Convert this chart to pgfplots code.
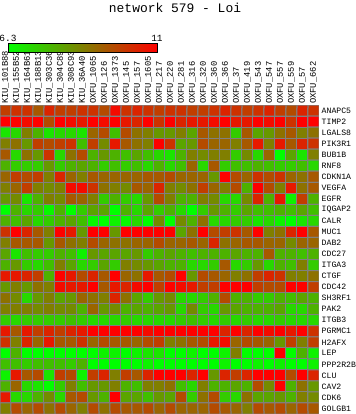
\documentclass[border=0pt]{standalone}
\usepackage{pgfplots}
\pgfplotsset{compat=1.18}
\usepackage{fontspec}
\setmonofont{Liberation Mono}
\begin{document}
\begin{tikzpicture}
\useasboundingbox (0bp,0bp) rectangle (356bp,414bp);
\begin{axis}[
  at={(0bp,0bp)}, anchor=south west,
  scale only axis, width=319bp, height=309bp,
  xmin=-0.5, xmax=28.5, ymin=-0.5, ymax=27.5,
  y dir=reverse,
  enlargelimits=false,
  axis line style={draw=none},
  major tick length=0pt,
  xtick={0,...,28}, ytick={0,...,27},
  xticklabel pos=upper, yticklabel pos=right,
  xticklabels={KIU\_101B88,KIU\_155B52,KIU\_164B61,KIU\_188B13,KIU\_303C36,KIU\_304C89,KIU\_308C93,KIU\_36A40,OXFU\_1065,OXFU\_126,OXFU\_1373,OXFU\_145,OXFU\_157,OXFU\_1605,OXFU\_217,OXFU\_220,OXFU\_281,OXFU\_316,OXFU\_320,OXFU\_360,OXFU\_366,OXFU\_37,OXFU\_419,OXFU\_543,OXFU\_547,OXFU\_557,OXFU\_559,OXFU\_57,OXFU\_662},
  yticklabels={ANAPC5,TIMP2,LGALS8,PIK3R1,BUB1B,RNF8,CDKN1A,VEGFA,EGFR,IQGAP2,CALR,MUC1,DAB2,CDC27,ITGA3,CTGF,CDC42,SH3RF1,PAK2,ITGB3,PGRMC1,H2AFX,LEP,PPP2R2B,CLU,CAV2,CDK6,GOLGB1},
  xticklabel style={rotate=90, anchor=west, font=\ttfamily\fontsize{8.8}{10}\selectfont, inner sep=1bp},
  yticklabel style={anchor=west, font=\ttfamily\fontsize{8.2}{10}\selectfont, inner sep=0pt, xshift=2.5bp},
  colormap={rg}{rgb255=(0,255,0) rgb255=(255,0,0)},
  point meta min=6.3, point meta max=11,
  colorbar horizontal,
  colorbar style={
    at={(parent axis.north west)}, anchor=south west,
    xshift=8bp, yshift=60.7bp,
    scale only axis, width=149bp, height=9bp,
    xtick={6.3,11}, xticklabels={6.3,11},
    xticklabel pos=upper,
    major tick length=0pt,
    xticklabel style={font=\ttfamily\fontsize{9.5}{10}\selectfont, inner sep=2bp, rotate=0},
    axis line style={line width=0.8bp, draw=black},
  },
]
\addplot[matrix plot*, mesh/cols=29, point meta=explicit, draw=gray, line width=1bp] coordinates {
(0,0)[9.83] (1,0)[10.06] (2,0)[10.06] (3,0)[9.36] (4,0)[10.30] (5,0)[9.83] (6,0)[9.83] (7,0)[10.06] (8,0)[10.06] (9,0)[9.59] (10,0)[10.77] (11,0)[10.06] (12,0)[10.30] (13,0)[10.06] (14,0)[9.83] (15,0)[10.06] (16,0)[10.06] (17,0)[9.83] (18,0)[9.83] (19,0)[10.06] (20,0)[10.30] (21,0)[10.06] (22,0)[9.83] (23,0)[10.06] (24,0)[10.30] (25,0)[9.83] (26,0)[9.59] (27,0)[10.30] (28,0)[10.06]
(0,1)[11.00] (1,1)[11.00] (2,1)[10.77] (3,1)[11.00] (4,1)[9.59] (5,1)[11.00] (6,1)[10.77] (7,1)[10.53] (8,1)[11.00] (9,1)[10.77] (10,1)[11.00] (11,1)[10.53] (12,1)[10.30] (13,1)[11.00] (14,1)[10.06] (15,1)[11.00] (16,1)[10.30] (17,1)[10.53] (18,1)[10.53] (19,1)[10.77] (20,1)[11.00] (21,1)[10.53] (22,1)[10.53] (23,1)[11.00] (24,1)[10.77] (25,1)[11.00] (26,1)[10.06] (27,1)[11.00] (28,1)[11.00]
(0,2)[6.77] (1,2)[7.01] (2,2)[8.65] (3,2)[7.71] (4,2)[6.77] (5,2)[7.01] (6,2)[7.01] (7,2)[6.77] (8,2)[9.12] (9,2)[9.59] (10,2)[7.48] (11,2)[9.59] (12,2)[8.89] (13,2)[8.65] (14,2)[8.18] (15,2)[8.18] (16,2)[8.65] (17,2)[7.95] (18,2)[9.36] (19,2)[8.89] (20,2)[8.89] (21,2)[7.24] (22,2)[9.36] (23,2)[7.95] (24,2)[8.18] (25,2)[8.89] (26,2)[9.36] (27,2)[8.65] (28,2)[8.89]
(0,3)[8.65] (1,3)[8.89] (2,3)[8.18] (3,3)[9.83] (4,3)[9.59] (5,3)[9.83] (6,3)[10.06] (7,3)[7.48] (8,3)[9.83] (9,3)[8.42] (10,3)[10.53] (11,3)[9.36] (12,3)[8.89] (13,3)[8.65] (14,3)[11.00] (15,3)[10.06] (16,3)[7.95] (17,3)[8.18] (18,3)[9.59] (19,3)[9.12] (20,3)[9.12] (21,3)[8.65] (22,3)[9.36] (23,3)[10.53] (24,3)[8.65] (25,3)[10.53] (26,3)[9.36] (27,3)[10.30] (28,3)[10.06]
(0,4)[9.36] (1,4)[7.01] (2,4)[8.89] (3,4)[8.18] (4,4)[10.06] (5,4)[7.01] (6,4)[8.89] (7,4)[9.59] (8,4)[7.71] (9,4)[8.18] (10,4)[7.71] (11,4)[7.48] (12,4)[7.95] (13,4)[7.48] (14,4)[7.01] (15,4)[6.77] (16,4)[7.71] (17,4)[8.65] (18,4)[8.42] (19,4)[8.65] (20,4)[8.65] (21,4)[7.24] (22,4)[8.42] (23,4)[7.01] (24,4)[9.12] (25,4)[6.30] (26,4)[7.95] (27,4)[6.77] (28,4)[8.65]
(0,5)[7.71] (1,5)[7.24] (2,5)[7.24] (3,5)[7.24] (4,5)[8.18] (5,5)[7.24] (6,5)[7.71] (7,5)[7.95] (8,5)[7.71] (9,5)[7.24] (10,5)[7.48] (11,5)[7.24] (12,5)[7.48] (13,5)[7.01] (14,5)[7.71] (15,5)[7.01] (16,5)[7.48] (17,5)[9.12] (18,5)[7.01] (19,5)[9.36] (20,5)[7.24] (21,5)[7.48] (22,5)[7.48] (23,5)[7.71] (24,5)[7.48] (25,5)[7.24] (26,5)[7.24] (27,5)[7.48] (28,5)[7.01]
(0,6)[9.12] (1,6)[9.83] (2,6)[9.59] (3,6)[9.83] (4,6)[8.65] (5,6)[10.30] (6,6)[9.12] (7,6)[8.65] (8,6)[9.36] (9,6)[9.12] (10,6)[9.12] (11,6)[9.12] (12,6)[9.12] (13,6)[9.36] (14,6)[9.36] (15,6)[9.59] (16,6)[9.12] (17,6)[9.12] (18,6)[9.12] (19,6)[8.18] (20,6)[11.00] (21,6)[9.59] (22,6)[9.12] (23,6)[10.06] (24,6)[9.59] (25,6)[10.06] (26,6)[9.12] (27,6)[8.89] (28,6)[9.36]
(0,7)[8.65] (1,7)[9.12] (2,7)[9.83] (3,7)[8.65] (4,7)[8.42] (5,7)[8.65] (6,7)[10.77] (7,7)[10.77] (8,7)[10.06] (9,7)[8.89] (10,7)[8.65] (11,7)[8.42] (12,7)[9.36] (13,7)[9.12] (14,7)[10.30] (15,7)[8.65] (16,7)[8.42] (17,7)[8.89] (18,7)[9.83] (19,7)[9.12] (20,7)[8.65] (21,7)[9.59] (22,7)[7.71] (23,7)[11.00] (24,7)[9.59] (25,7)[8.65] (26,7)[10.53] (27,7)[8.89] (28,7)[9.36]
(0,8)[8.18] (1,8)[8.42] (2,8)[6.77] (3,8)[7.71] (4,8)[8.65] (5,8)[8.42] (6,8)[9.36] (7,8)[9.12] (8,8)[8.65] (9,8)[7.24] (10,8)[7.71] (11,8)[7.24] (12,8)[7.01] (13,8)[8.18] (14,8)[9.59] (15,8)[8.65] (16,8)[7.71] (17,8)[7.71] (18,8)[8.65] (19,8)[8.42] (20,8)[7.01] (21,8)[7.01] (22,8)[8.42] (23,8)[10.30] (24,8)[7.71] (25,8)[10.53] (26,8)[6.54] (27,8)[9.83] (28,8)[7.71]
(0,9)[6.30] (1,9)[7.71] (2,9)[7.01] (3,9)[7.24] (4,9)[6.44] (5,9)[7.71] (6,9)[6.30] (7,9)[7.24] (8,9)[7.95] (9,9)[7.95] (10,9)[6.30] (11,9)[7.71] (12,9)[7.01] (13,9)[7.95] (14,9)[7.24] (15,9)[7.71] (16,9)[7.01] (17,9)[6.30] (18,9)[7.24] (19,9)[8.18] (20,9)[7.71] (21,9)[7.24] (22,9)[7.95] (23,9)[7.48] (24,9)[7.48] (25,9)[7.71] (26,9)[7.48] (27,9)[7.95] (28,9)[7.48]
(0,10)[7.71] (1,10)[7.48] (2,10)[7.95] (3,10)[7.01] (4,10)[7.24] (5,10)[7.71] (6,10)[7.95] (7,10)[7.48] (8,10)[6.44] (9,10)[6.30] (10,10)[6.54] (11,10)[6.44] (12,10)[7.01] (13,10)[6.30] (14,10)[8.42] (15,10)[6.30] (16,10)[8.42] (17,10)[7.71] (18,10)[8.89] (19,10)[7.01] (20,10)[7.01] (21,10)[7.24] (22,10)[7.24] (23,10)[6.77] (24,10)[7.01] (25,10)[6.54] (26,10)[6.30] (27,10)[6.77] (28,10)[7.01]
(0,11)[10.06] (1,11)[11.00] (2,11)[10.30] (3,11)[9.36] (4,11)[8.65] (5,11)[11.00] (6,11)[10.53] (7,11)[8.18] (8,11)[11.00] (9,11)[11.00] (10,11)[8.18] (11,11)[11.00] (12,11)[11.00] (13,11)[11.00] (14,11)[11.00] (15,11)[11.00] (16,11)[7.95] (17,11)[8.89] (18,11)[11.00] (19,11)[9.59] (20,11)[9.83] (21,11)[10.06] (22,11)[9.36] (23,11)[11.00] (24,11)[8.65] (25,11)[8.89] (26,11)[10.30] (27,11)[11.00] (28,11)[9.36]
(0,12)[8.65] (1,12)[9.36] (2,12)[9.36] (3,12)[9.36] (4,12)[8.18] (5,12)[9.36] (6,12)[8.89] (7,12)[8.65] (8,12)[9.59] (9,12)[9.12] (10,12)[8.89] (11,12)[8.89] (12,12)[9.12] (13,12)[9.12] (14,12)[9.59] (15,12)[9.12] (16,12)[9.12] (17,12)[9.36] (18,12)[9.12] (19,12)[10.30] (20,12)[8.89] (21,12)[9.12] (22,12)[9.36] (23,12)[9.36] (24,12)[9.12] (25,12)[9.12] (26,12)[8.42] (27,12)[9.12] (28,12)[9.12]
(0,13)[7.95] (1,13)[6.77] (2,13)[7.48] (3,13)[7.24] (4,13)[7.24] (5,13)[7.71] (6,13)[7.48] (7,13)[6.54] (8,13)[8.18] (9,13)[7.95] (10,13)[7.95] (11,13)[7.95] (12,13)[8.18] (13,13)[7.24] (14,13)[7.71] (15,13)[7.95] (16,13)[7.71] (17,13)[7.48] (18,13)[7.71] (19,13)[7.71] (20,13)[7.71] (21,13)[7.95] (22,13)[7.71] (23,13)[7.71] (24,13)[9.36] (25,13)[7.71] (26,13)[7.71] (27,13)[7.48] (28,13)[7.71]
(0,14)[7.71] (1,14)[8.18] (2,14)[7.24] (3,14)[7.01] (4,14)[7.48] (5,14)[8.65] (6,14)[7.95] (7,14)[7.01] (8,14)[7.24] (9,14)[7.95] (10,14)[7.24] (11,14)[8.65] (12,14)[8.42] (13,14)[8.18] (14,14)[7.95] (15,14)[7.71] (16,14)[7.71] (17,14)[7.01] (18,14)[7.01] (19,14)[7.24] (20,14)[9.36] (21,14)[7.01] (22,14)[7.24] (23,14)[8.18] (24,14)[7.01] (25,14)[7.71] (26,14)[7.48] (27,14)[8.65] (28,14)[7.24]
(0,15)[10.53] (1,15)[10.53] (2,15)[10.30] (3,15)[9.83] (4,15)[7.71] (5,15)[11.00] (6,15)[10.53] (7,15)[9.59] (8,15)[10.30] (9,15)[9.36] (10,15)[11.00] (11,15)[9.12] (12,15)[8.89] (13,15)[10.53] (14,15)[9.36] (15,15)[9.59] (16,15)[11.00] (17,15)[8.18] (18,15)[9.59] (19,15)[9.36] (20,15)[9.12] (21,15)[8.65] (22,15)[8.89] (23,15)[9.83] (24,15)[10.30] (25,15)[10.06] (26,15)[8.65] (27,15)[8.65] (28,15)[8.89]
(0,16)[8.18] (1,16)[8.65] (2,16)[8.18] (3,16)[8.89] (4,16)[8.65] (5,16)[10.77] (6,16)[10.53] (7,16)[10.53] (8,16)[11.00] (9,16)[9.36] (10,16)[10.53] (11,16)[10.30] (12,16)[10.77] (13,16)[11.00] (14,16)[9.83] (15,16)[11.00] (16,16)[10.77] (17,16)[10.53] (18,16)[9.83] (19,16)[9.83] (20,16)[11.00] (21,16)[11.00] (22,16)[11.00] (23,16)[9.83] (24,16)[9.59] (25,16)[9.59] (26,16)[11.00] (27,16)[11.00] (28,16)[9.83]
(0,17)[8.89] (1,17)[8.42] (2,17)[7.01] (3,17)[8.18] (4,17)[8.65] (5,17)[7.95] (6,17)[8.18] (7,17)[9.12] (8,17)[8.89] (9,17)[8.65] (10,17)[10.30] (11,17)[8.89] (12,17)[7.95] (13,17)[7.24] (14,17)[8.18] (15,17)[8.42] (16,17)[7.01] (17,17)[7.01] (18,17)[7.24] (19,17)[7.71] (20,17)[9.59] (21,17)[7.71] (22,17)[7.71] (23,17)[7.24] (24,17)[7.24] (25,17)[7.71] (26,17)[7.48] (27,17)[7.95] (28,17)[7.71]
(0,18)[8.65] (1,18)[8.65] (2,18)[8.65] (3,18)[8.42] (4,18)[8.65] (5,18)[8.42] (6,18)[8.42] (7,18)[7.71] (8,18)[9.12] (9,18)[8.18] (10,18)[8.42] (11,18)[7.71] (12,18)[7.95] (13,18)[7.71] (14,18)[7.95] (15,18)[8.18] (16,18)[7.01] (17,18)[8.42] (18,18)[7.24] (19,18)[7.01] (20,18)[8.18] (21,18)[7.95] (22,18)[7.71] (23,18)[7.71] (24,18)[7.71] (25,18)[7.95] (26,18)[7.01] (27,18)[7.01] (28,18)[7.71]
(0,19)[7.24] (1,19)[7.01] (2,19)[7.24] (3,19)[7.24] (4,19)[7.24] (5,19)[7.24] (6,19)[7.48] (7,19)[7.24] (8,19)[7.01] (9,19)[7.01] (10,19)[7.01] (11,19)[7.24] (12,19)[7.01] (13,19)[7.01] (14,19)[7.01] (15,19)[7.01] (16,19)[7.24] (17,19)[7.48] (18,19)[7.24] (19,19)[7.01] (20,19)[7.24] (21,19)[7.01] (22,19)[7.24] (23,19)[7.01] (24,19)[7.01] (25,19)[7.24] (26,19)[7.01] (27,19)[7.01] (28,19)[7.01]
(0,20)[10.53] (1,20)[9.36] (2,20)[10.53] (3,20)[9.83] (4,20)[10.30] (5,20)[9.83] (6,20)[10.30] (7,20)[10.53] (8,20)[11.00] (9,20)[11.00] (10,20)[11.00] (11,20)[11.00] (12,20)[11.00] (13,20)[10.77] (14,20)[11.00] (15,20)[11.00] (16,20)[11.00] (17,20)[11.00] (18,20)[11.00] (19,20)[11.00] (20,20)[10.30] (21,20)[11.00] (22,20)[10.30] (23,20)[11.00] (24,20)[10.77] (25,20)[11.00] (26,20)[10.53] (27,20)[11.00] (28,20)[10.06]
(0,21)[10.06] (1,21)[8.65] (2,21)[10.30] (3,21)[9.12] (4,21)[10.53] (5,21)[9.36] (6,21)[9.36] (7,21)[10.06] (8,21)[9.12] (9,21)[9.59] (10,21)[9.36] (11,21)[9.36] (12,21)[9.12] (13,21)[9.59] (14,21)[9.83] (15,21)[8.65] (16,21)[8.89] (17,21)[9.36] (18,21)[9.59] (19,21)[10.53] (20,21)[10.77] (21,21)[9.12] (22,21)[9.59] (23,21)[9.36] (24,21)[9.12] (25,21)[8.18] (26,21)[9.83] (27,21)[8.65] (28,21)[9.83]
(0,22)[6.30] (1,22)[7.71] (2,22)[6.30] (3,22)[6.30] (4,22)[6.30] (5,22)[6.30] (6,22)[6.30] (7,22)[6.30] (8,22)[6.30] (9,22)[6.54] (10,22)[6.54] (11,22)[6.30] (12,22)[6.54] (13,22)[6.77] (14,22)[6.77] (15,22)[6.30] (16,22)[6.30] (17,22)[6.54] (18,22)[6.30] (19,22)[6.30] (20,22)[6.54] (21,22)[8.65] (22,22)[6.30] (23,22)[6.30] (24,22)[6.30] (25,22)[11.00] (26,22)[6.30] (27,22)[7.71] (28,22)[6.54]
(0,23)[7.48] (1,23)[7.48] (2,23)[7.24] (3,23)[7.48] (4,23)[7.48] (5,23)[7.48] (6,23)[7.24] (7,23)[7.71] (8,23)[6.30] (9,23)[6.30] (10,23)[6.30] (11,23)[6.30] (12,23)[6.30] (13,23)[6.54] (14,23)[6.30] (15,23)[6.30] (16,23)[6.30] (17,23)[6.30] (18,23)[6.30] (19,23)[6.30] (20,23)[6.54] (21,23)[6.30] (22,23)[6.30] (23,23)[6.54] (24,23)[6.30] (25,23)[6.54] (26,23)[6.30] (27,23)[6.30] (28,23)[6.54]
(0,24)[6.54] (1,24)[10.53] (2,24)[9.36] (3,24)[9.59] (4,24)[6.77] (5,24)[9.83] (6,24)[9.59] (7,24)[6.54] (8,24)[9.83] (9,24)[10.30] (10,24)[8.65] (11,24)[9.83] (12,24)[9.36] (13,24)[10.30] (14,24)[11.00] (15,24)[11.00] (16,24)[11.00] (17,24)[10.30] (18,24)[11.00] (19,24)[8.18] (20,24)[10.30] (21,24)[9.83] (22,24)[10.30] (23,24)[11.00] (24,24)[11.00] (25,24)[11.00] (26,24)[9.59] (27,24)[11.00] (28,24)[10.30]
(0,25)[7.71] (1,25)[9.12] (2,25)[7.01] (3,25)[6.77] (4,25)[6.30] (5,25)[7.24] (6,25)[8.65] (7,25)[7.48] (8,25)[8.18] (9,25)[8.18] (10,25)[8.65] (11,25)[7.71] (12,25)[7.48] (13,25)[8.65] (14,25)[8.65] (15,25)[8.89] (16,25)[7.48] (17,25)[7.01] (18,25)[8.65] (19,25)[7.71] (20,25)[7.71] (21,25)[7.95] (22,25)[7.71] (23,25)[9.59] (24,25)[8.42] (25,25)[11.00] (26,25)[7.71] (27,25)[8.89] (28,25)[8.18]
(0,26)[10.53] (1,26)[7.01] (2,26)[7.01] (3,26)[7.71] (4,26)[8.42] (5,26)[7.01] (6,26)[9.36] (7,26)[9.59] (8,26)[8.18] (9,26)[7.71] (10,26)[11.00] (11,26)[7.95] (12,26)[7.95] (13,26)[7.48] (14,26)[8.18] (15,26)[7.95] (16,26)[9.59] (17,26)[7.24] (18,26)[8.89] (19,26)[9.59] (20,26)[7.24] (21,26)[7.01] (22,26)[8.89] (23,26)[7.95] (24,26)[7.95] (25,26)[8.18] (26,26)[7.71] (27,26)[8.65] (28,26)[8.42]
(0,27)[8.65] (1,27)[9.59] (2,27)[9.12] (3,27)[9.59] (4,27)[8.89] (5,27)[9.59] (6,27)[9.12] (7,27)[8.65] (8,27)[9.59] (9,27)[8.89] (10,27)[9.59] (11,27)[9.36] (12,27)[9.36] (13,27)[9.59] (14,27)[9.12] (15,27)[9.59] (16,27)[9.12] (17,27)[9.12] (18,27)[9.12] (19,27)[9.59] (20,27)[9.36] (21,27)[9.12] (22,27)[8.65] (23,27)[9.59] (24,27)[9.36] (25,27)[9.59] (26,27)[9.12] (27,27)[9.59] (28,27)[9.36]
};
\end{axis}
\node[font=\ttfamily\fontsize{13}{15}\selectfont, anchor=base] at (175bp,401.3bp) {network 579 - Loi};
\end{tikzpicture}
\end{document}
